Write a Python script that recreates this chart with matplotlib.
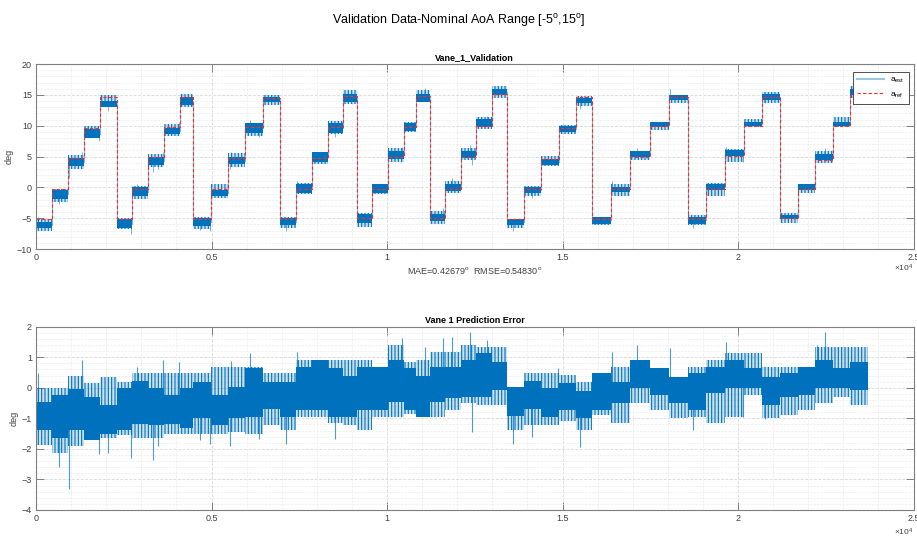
import numpy as np
import matplotlib
matplotlib.use('Agg')
import matplotlib.pyplot as plt
from matplotlib.ticker import MultipleLocator, FuncFormatter
from matplotlib.lines import Line2D

plt.rcParams['font.family'] = ['Liberation Sans', 'DejaVu Sans']
plt.rcParams['mathtext.fontset'] = 'custom'
plt.rcParams['mathtext.rm'] = 'Liberation Sans'
plt.rcParams['mathtext.it'] = 'Liberation Sans:italic'
plt.rcParams['mathtext.bf'] = 'Liberation Sans:bold'
plt.rcParams['hatch.linewidth'] = 0.8

# sample index where each reference step starts (last value = end of record)
edges = [0, 456, 921, 1377, 1833, 2298, 2745, 3200, 3656, 4103, 4464, 4976, 5461,
         5955, 6458, 6952, 7398, 7873, 8329, 8756, 9136, 9582, 10038, 10485, 10827,
         11225, 11653, 12108, 12545, 12991, 13418, 13913, 14387, 14891, 15375, 15831,
         16382, 16932, 17483, 18043, 18575, 19097, 19638, 20161, 20684, 21206, 21700,
         22203, 22706, 23199, 23694]

# reference AoA of each step (deg)
ref_lvl = [-5.2, -0.2, 4.8, 9.7, 14.6,
           -5.2, -0.2, 4.9, 9.8, 14.6,
           -5.2, -0.2, 4.8, 9.8, 14.5,
           -5.2, -0.2, 4.8, 9.8, 14.8,
           -5.0, -0.2, 5.0, 9.8, 14.8,
           -5.0, -0.2, 5.0, 10.0, 15.1,
           -5.2, -0.2, 4.6, 9.7, 14.6,
           -5.2, -0.2, 5.0, 10.0, 14.6,
           -5.2, -0.2, 5.1, 10.0, 14.7,
           -4.9, -0.2, 4.5, 10.0, 15.1]

# prediction error per step: dense core and outer spread (deg)
err_hi = [-0.45, -0.25, -0.05, -0.30, -0.55, 0.00, 0.22, -0.02, -0.24, -0.02,
          0.20, -0.24, 0.04, 0.64, 0.20, 0.20, 0.69, 0.91, 0.64, 0.39,
          0.69, 0.69, 0.91, 0.64, 0.39, 0.69, 0.69, 0.91, 1.13, 0.86,
          0.02, 0.22, -0.02, 0.17, -0.10, 0.47, 0.20, 0.91, 0.64, 0.36,
          0.47, 0.69, 0.91, 0.64, 0.36, 0.47, 0.69, 0.91, 0.64, 0.86]
err_lo = [-1.38, -1.65, -1.38, -1.70, -1.50, -1.38, -1.18, -1.22, -1.18, -1.30,
          -1.00, -1.22, -1.00, -0.94, -0.70, -0.94, -0.73, -0.73, -0.94, -0.94,
          -0.73, -0.73, -0.45, -0.73, -0.94, -0.45, -0.35, -0.29, -0.29, -0.07,
          -0.92, -0.70, -0.94, -0.73, -1.00, -0.73, -0.50, 0.00, -0.24, -0.51,
          -0.73, -0.18, 0.00, 0.00, -0.56, -0.29, -0.24, 0.00, 0.00, -0.07]
spread_hi = [0.00, 0.00, 0.40, 0.17, 0.36, 0.20, 0.47, 0.47, 0.47, 0.47,
             0.47, 0.69, 0.69, 0.69, 0.47, 0.47, 0.91, 0.91, 0.91, 0.91,
             0.91, 0.69, 1.40, 0.86, 0.91, 1.18, 1.18, 1.40, 1.35, 1.35,
             0.02, 0.47, 0.47, 0.42, 0.20, 0.47, 0.69, 0.91, 0.64, 0.36,
             0.69, 0.91, 1.13, 1.13, 0.69, 0.69, 0.69, 1.35, 1.35, 1.35]
spread_lo = [-1.87, -2.12, -1.90, -1.70, -1.65, -1.55, -1.65, -1.65, -1.50, -1.50,
             -1.50, -1.50, -1.45, -1.50, -1.22, -1.38, -0.94, -0.94, -1.16, -1.22,
             -1.38, -0.94, -0.94, -0.85, -0.94, -0.94, -0.73, -0.51, -0.56, -0.56,
             -1.38, -1.22, -1.22, -1.10, -1.38, -0.90, -1.16, -0.51, -0.73, -1.00,
             -0.94, -1.16, -0.94, -0.24, -1.00, -0.90, -0.73, -0.51, -0.29, -0.56]

# isolated error spikes (sample, deg)
spike_x = [66, 655, 940, 1320, 1795, 2051, 2697, 2887, 3343, 3485,
           3628, 4074, 4672, 4957, 5527, 5555, 6097, 6363, 7122, 7427,
           8519, 10038, 10437, 11083, 11605, 11843, 12365, 12412, 12850, 13598,
           14122, 14880, 15498, 16401, 17113, 18062, 18726, 19648, 20152, 20770,
           22242, 22478]
spike_y = [0.47, -2.58, -3.31, 0.91, -2.17, -2.15, -2.31, 0.69, -2.36, -1.90,
           0.91, 0.85, -1.71, -1.84, -1.90, 0.89, 1.13, -1.69, -1.84, 1.16,
           -1.69, 1.35, 1.62, 1.35, 1.62, 1.65, 1.84, -1.44, 1.58, -1.84,
           -1.60, 0.64, -1.95, 1.18, 1.40, 1.29, -1.38, 1.51, -0.97, -1.02,
           1.40, 1.84]

blue = '#0072BD'
edges = np.array(edges)
ref = np.array(ref_lvl)
err_hi = np.array(err_hi); err_lo = np.array(err_lo)
spread_hi = np.array(spread_hi); spread_lo = np.array(spread_lo)
spike_x = np.array(spike_x); spike_y = np.array(spike_y)
seg = np.searchsorted(edges, spike_x, side='right') - 1
mid = (err_hi + err_lo) / 2


def stepy(v):
    return np.append(v, v[-1])


def noisy_band(ax, base):
    # outer spread drawn as thin vertical strokes, dense core solid
    ax.fill_between(edges, stepy(base + spread_lo), stepy(base + spread_hi), step='post',
                    facecolor=(0.0, 0.447, 0.741, 0.2), edgecolor=blue, hatch='|||||', lw=0)
    ax.fill_between(edges, stepy(base + err_lo), stepy(base + err_hi), step='post',
                    color=blue, lw=0)


def style(ax, y0, y1, ymaj, ymin):
    ax.set_xlim(0, 25000)
    ax.set_ylim(y0, y1)
    ax.xaxis.set_major_locator(MultipleLocator(5000))
    ax.xaxis.set_minor_locator(MultipleLocator(1000))
    ax.yaxis.set_major_locator(MultipleLocator(ymaj))
    ax.yaxis.set_minor_locator(MultipleLocator(ymin))
    ax.xaxis.set_major_formatter(FuncFormatter(lambda v, p: '%g' % (v / 1e4)))
    ax.grid(which='major', color='#d9d9d9', ls='--', lw=0.6)
    ax.grid(which='minor', color='#ececec', ls='--', lw=0.5)
    ax.set_axisbelow(True)
    ax.tick_params(which='major', direction='in', length=6, width=0.7, color='#7f7f7f',
                   top=True, right=True, labelsize=6.5, labelcolor='#404040', pad=3)
    ax.tick_params(which='minor', length=0)
    for s in ax.spines.values():
        s.set_color('#7f7f7f')
        s.set_linewidth(0.8)
    ax.set_ylabel('deg', fontsize=6.5, color='#404040', labelpad=2)


fig = plt.figure(figsize=(9.17, 5.37), dpi=100)
ax1 = fig.add_axes([0.0393, 0.5363, 0.9569, 0.3445])
ax2 = fig.add_axes([0.0393, 0.0503, 0.9569, 0.3413])

# top: estimate (ref + error) vs reference
noisy_band(ax1, ref)
ax1.step(edges, stepy(ref + mid), where='post', color=blue, lw=0.8, alpha=0.5)
ax1.vlines(spike_x, ref[seg] + mid[seg], ref[seg] + spike_y, color=blue, lw=0.6, alpha=0.6)
ax1.step(edges, stepy(ref), where='post', color='#ff2a2a', ls='--', lw=0.8, dashes=(3, 2))
style(ax1, -10, 20, 5, 1)
ax1.set_title('Vane_1_Validation', fontsize=6.5, fontweight='bold', pad=3)
ax1.set_xlabel(r'MAE=0.42679$^\mathrm{o}$  RMSE=0.54830$^\mathrm{o}$', fontsize=6.5,
               color='#404040', labelpad=2)
ax1.text(1.0, -0.103, r'$\times10^{4}$', transform=ax1.transAxes, ha='right', va='center',
         fontsize=6, color='#404040')
handles = [Line2D([], [], color=blue, alpha=0.4, lw=1.5),
           Line2D([], [], color='#ff2a2a', ls='--', lw=0.8, dashes=(3, 2))]
leg = ax1.legend(handles, [r'a$_{\mathrm{est}}$', r'a$_{\mathrm{ref}}$'], loc='upper right',
                 bbox_to_anchor=(0.995, 0.957), borderaxespad=0, fontsize=6, fancybox=False,
                 framealpha=1, edgecolor='#333333', handlelength=3.2, borderpad=0.5,
                 labelspacing=0.6)
leg.get_frame().set_linewidth(0.6)

# bottom: prediction error
noisy_band(ax2, np.zeros_like(ref))
ax2.vlines(spike_x, mid[seg], spike_y, color=blue, lw=0.8, alpha=0.7)
style(ax2, -4, 2, 1, 0.2)
ax2.set_title('Vane 1 Prediction Error', fontsize=6.5, fontweight='bold', pad=3)
ax2.text(1.0, -0.12, r'$\times10^{4}$', transform=ax2.transAxes, ha='right', va='center',
         fontsize=6, color='#404040')

fig.suptitle(r'Validation Data-Nominal AoA Range [-5$^\mathrm{o}$,15$^\mathrm{o}$]',
             y=0.978, fontsize=9)

fig.savefig('out.png', dpi=100)
